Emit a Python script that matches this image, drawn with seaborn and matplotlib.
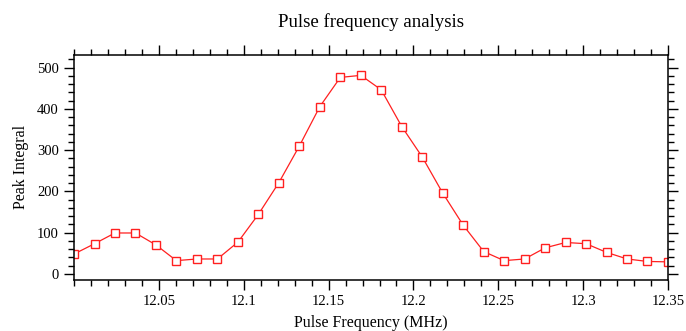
import numpy as np
import pandas as pd
import matplotlib
matplotlib.use("Agg")
import matplotlib.pyplot as plt
from matplotlib.ticker import MultipleLocator, FixedLocator
import seaborn as sns

freq_mhz = [12.0, 12.0121, 12.0241, 12.0362, 12.0483, 12.0603, 12.0724, 12.0845,
            12.0966, 12.1086, 12.1207, 12.1328, 12.1448, 12.1569, 12.1690, 12.1810,
            12.1931, 12.2052, 12.2172, 12.2293, 12.2414, 12.2534, 12.2655, 12.2776,
            12.2897, 12.3017, 12.3138, 12.3259, 12.3379, 12.35]
peak_integral = [48, 73, 99, 99, 70, 32, 36, 36, 77, 144, 221, 310, 405, 476, 481, 446,
                 357, 283, 196, 118, 54, 32, 36, 63, 76, 73, 52, 36, 30, 29]
x_tick_labels = ["12.05", "12.1", "12.15", "12.2", "12.25", "12.3", "12.35"]
y_tick_values = [0, 100, 200, 300, 400, 500]

df = pd.DataFrame({"freq": freq_mhz, "peak": peak_integral})

sns.set_style("ticks")
plt.rcParams["font.family"] = ["Liberation Serif", "DejaVu Serif"]

fig = plt.figure(figsize=(6.86, 3.31), dpi=100)
ax = fig.add_axes([0.1079, 0.154, 0.8659, 0.6807])

sns.lineplot(data=df, x="freq", y="peak", ax=ax, color="#ff2020", linewidth=0.9,
             marker="s", markersize=6.2, markerfacecolor="white",
             markeredgecolor="#ff2020", markeredgewidth=1.0)

ax.set_xlim(12.0, 12.35)
ax.set_ylim(-15, 531)
ax.xaxis.set_major_locator(FixedLocator([float(t) for t in x_tick_labels]))
ax.set_xticklabels(x_tick_labels)
ax.xaxis.set_minor_locator(MultipleLocator(0.01))
ax.yaxis.set_major_locator(FixedLocator(y_tick_values))
ax.yaxis.set_minor_locator(MultipleLocator(20))

ax.tick_params(which="both", direction="out", top=True, right=True,
               labeltop=False, labelright=False, colors="black", labelsize=10.5)
ax.tick_params(which="major", length=7.5, width=1)
ax.tick_params(which="minor", length=4.5, width=1)
for s in ax.spines.values():
    s.set_linewidth(1.1)
    s.set_color("black")

ax.set_title("Pulse frequency analysis", fontsize=13.5, pad=20, color="black")
ax.set_xlabel("Pulse Frequency (MHz)", fontsize=11.5, labelpad=5, color="black")
ax.set_ylabel("Peak Integral", fontsize=11.5, labelpad=6, color="black")

fig.savefig("out.png", dpi=100)
